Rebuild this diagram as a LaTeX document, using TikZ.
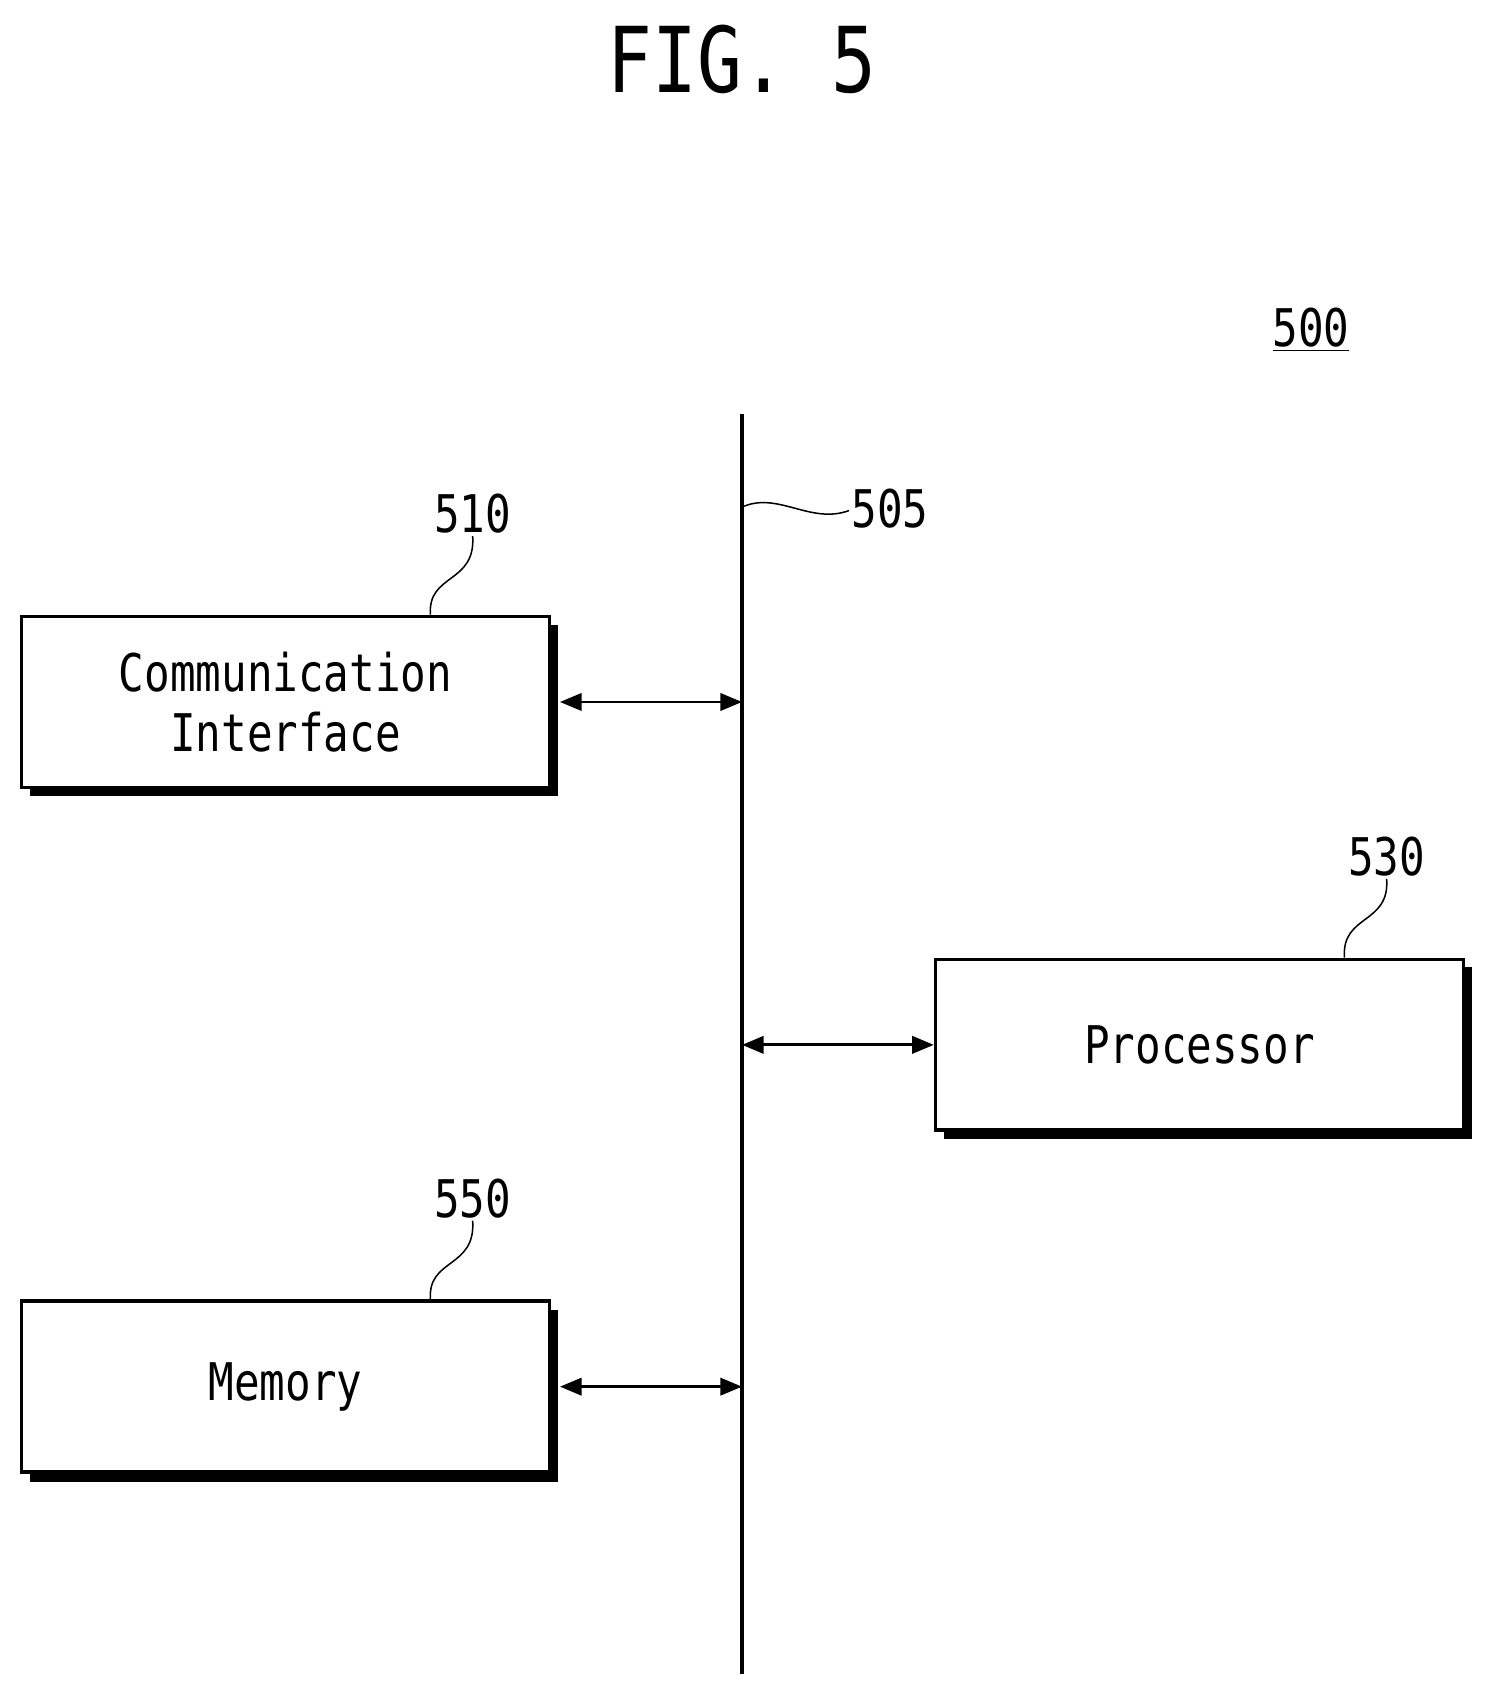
\documentclass[tikz,border=0pt]{standalone}
\usepackage{fontspec}
\setmainfont{DejaVu Sans Mono}[FakeStretch=0.82]
\usetikzlibrary{arrows.meta}
\begin{document}
\begin{tikzpicture}[x=0.5pt,y=-0.5pt,
  box/.style={draw,line width=1.7pt,fill=white,minimum width=244pt,minimum height=79pt,inner sep=0pt,font=\fontsize{24}{26}\selectfont,align=center},
  lbl/.style={font=\fontsize{24}{26}\selectfont,inner sep=1pt},
  conn/.style={line width=1.3pt,arrows={Triangle[length=10pt,width=8pt,fill=black]-Triangle[length=10pt,width=8pt,fill=black]}},
  lead/.style={line width=0.7pt}]
\useasboundingbox (0,0) rectangle (1380,1568);
\node[font=\fontsize{42}{44}\selectfont] (fig) at (686,55) {FIG. 5};
\node[lbl] (n500) at (1212,305) {\underline{500}};
% bus
\coordinate (bt) at (686,383); \coordinate (bb) at (686,1548);
\draw[line width=1.5pt] (bt) -- (bb);
\coordinate (w505a) at (688,468); \coordinate (w505b) at (785,472);
\node[lbl,anchor=west] (n505) at (785,470) {505};
\draw[lead] (w505a) .. controls (720,455) and (750,485) .. (w505b);
% shadows
\fill (28,578) rectangle (516,736);
\fill (873,894) rectangle (1361,1053);
\fill (28,1211) rectangle (516,1370);
\node[box] (b510) at (264,649) {Communication\\[2pt]Interface};
\node[box] (b530) at (1109,966) {Processor};
\node[box] (b550) at (264,1282) {Memory};
\node[lbl] (n510) at (437,475) {510};
\node[lbl] (n530) at (1282,792) {530};
\node[lbl] (n550) at (437,1108) {550};
\draw[lead] (b510.north -| 398,0) .. controls (395,530) and (440,540) .. (n510.south);
\draw[lead] (b530.north -| 1243,0) .. controls (1240,845) and (1285,855) .. (n530.south);
\draw[lead] (b550.north -| 398,0) .. controls (395,1163) and (440,1173) .. (n550.south);
\coordinate (p1) at (686,649); \coordinate (p2) at (686,966); \coordinate (p3) at (686,1282);
\draw[conn] ([xshift=4pt]b510.east) -- (p1);
\draw[conn] (p2) -- (b530.west);
\draw[conn] ([xshift=4pt]b550.east) -- (p3);
\end{tikzpicture}
\end{document}
